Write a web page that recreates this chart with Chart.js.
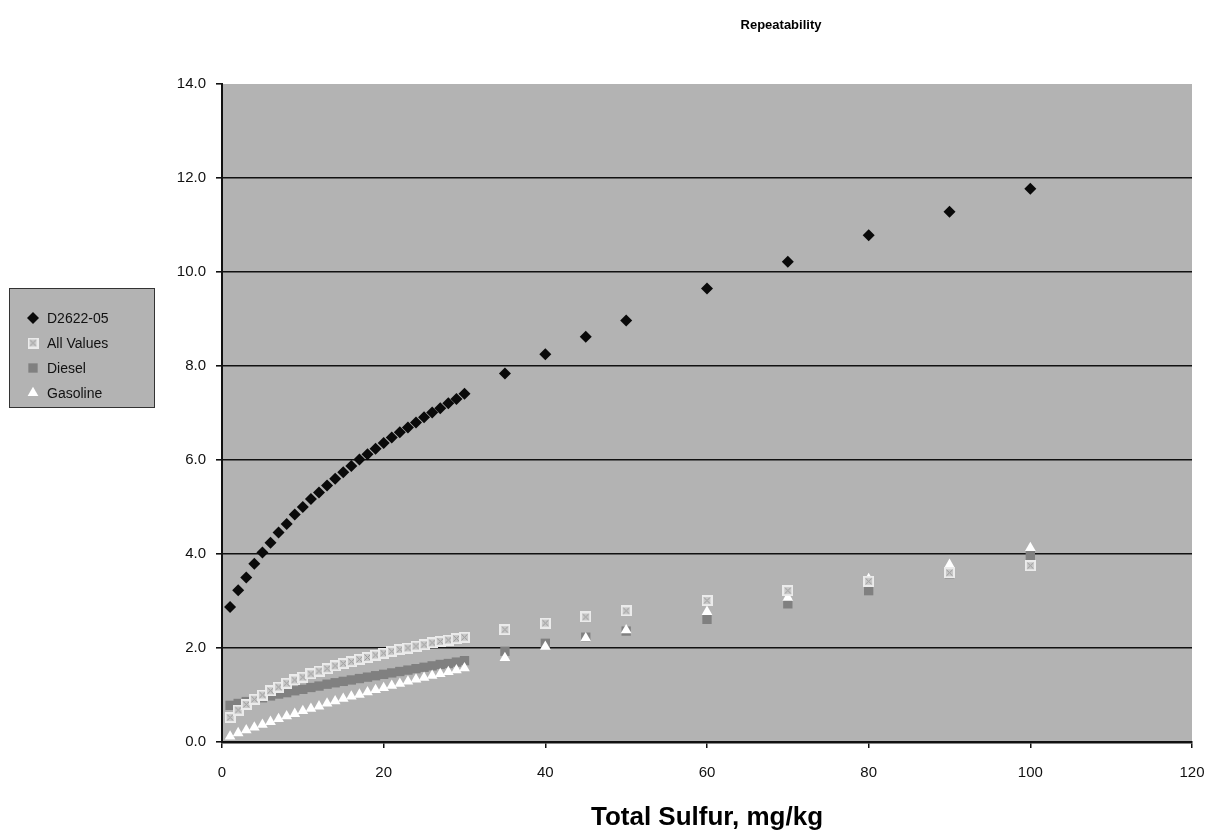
<!DOCTYPE html>
<html>
<head>
<meta charset="utf-8">
<title>Repeatability</title>
<script src="https://cdn.jsdelivr.net/npm/chart.js@4.4.1/dist/chart.umd.min.js"></script>
<style>
  html, body { margin: 0; padding: 0; background: #fff; }
  #wrap { position: relative; width: 1211px; height: 835px; }
</style>
</head>
<body>
<div id="wrap"><canvas id="chart"></canvas></div>
<script>
// x values (Total Sulfur, mg/kg)
const sulfur = [
  1, 2, 3, 4, 5, 6, 7, 8, 9, 10,
  11, 12, 13, 14, 15, 16, 17, 18, 19, 20,
  21, 22, 23, 24, 25, 26, 27, 28, 29, 30,
  35, 40, 45, 50, 60, 70, 80, 90, 100,
]

const d2622 = [
  2.87, 3.23, 3.50, 3.79, 4.03, 4.24, 4.46, 4.64, 4.84, 5.00,
  5.17, 5.31, 5.46, 5.60, 5.74, 5.87, 6.01, 6.12, 6.24, 6.36,
  6.48, 6.59, 6.69, 6.80, 6.91, 7.01, 7.10, 7.21, 7.30, 7.41,
  7.84, 8.25, 8.62, 8.97, 9.65, 10.22, 10.78, 11.28, 11.77,
]

const allValues = [
  0.52, 0.68, 0.80, 0.91, 1.00, 1.09, 1.17, 1.25, 1.32, 1.38,
  1.45, 1.51, 1.56, 1.62, 1.67, 1.71, 1.76, 1.80, 1.85, 1.89,
  1.93, 1.97, 2.00, 2.04, 2.07, 2.11, 2.14, 2.17, 2.20, 2.23,
  2.39, 2.53, 2.66, 2.79, 3.01, 3.22, 3.42, 3.60, 3.75,
]

const diesel = [
  0.78, 0.82, 0.86, 0.90, 0.94, 0.98, 1.02, 1.05, 1.09, 1.12,
  1.16, 1.19, 1.23, 1.26, 1.29, 1.32, 1.35, 1.38, 1.41, 1.44,
  1.47, 1.50, 1.53, 1.56, 1.59, 1.62, 1.65, 1.67, 1.70, 1.73,
  1.93, 2.10, 2.23, 2.36, 2.61, 2.94, 3.22, 3.58, 3.97,
]

const gasoline = [
  0.12, 0.19, 0.25, 0.31, 0.37, 0.43, 0.49, 0.55, 0.60, 0.66,
  0.71, 0.76, 0.82, 0.87, 0.92, 0.97, 1.01, 1.06, 1.11, 1.15,
  1.20, 1.24, 1.29, 1.33, 1.37, 1.41, 1.45, 1.49, 1.53, 1.57,
  1.79, 2.03, 2.21, 2.38, 2.77, 3.07, 3.47, 3.77, 4.13,
]

const xTicks = [0, 20, 40, 60, 80, 100, 120]
const yTicks = [0, 2, 4, 6, 8, 10, 12, 14]

const FONT = "'Liberation Sans', Arial, Helvetica, sans-serif"
const INK = "#111111"
const PLOT_BG = "#b3b3b3"

// light square with an X, like the Excel "All Values" marker
function crossedSquare(size) {
  const c = document.createElement("canvas")
  c.width = size
  c.height = size
  const g = c.getContext("2d")
  g.fillStyle = "#c9c9c9"
  g.fillRect(0, 0, size, size)
  g.strokeStyle = "#ebebeb"
  g.lineWidth = 2
  g.strokeRect(1, 1, size - 2, size - 2)
  g.strokeStyle = "#9a9a9a"
  g.lineWidth = 1
  g.beginPath()
  g.moveTo(2.5, 2.5)
  g.lineTo(size - 2.5, size - 2.5)
  g.moveTo(size - 2.5, 2.5)
  g.lineTo(2.5, size - 2.5)
  g.stroke()
  return c
}

const toPoints = (ys) => sulfur.map((x, i) => ({ x, y: ys[i] }))

const datasets = [
  {
    label: "D2622-05",
    data: toPoints(d2622),
    pointStyle: "rectRot",
    pointRadius: 6,
    backgroundColor: "#0a0a0a",
    borderColor: "#0a0a0a",
    borderWidth: 0,
    order: 3,
  },
  {
    label: "All Values",
    data: toPoints(allValues),
    pointStyle: crossedSquare(11),
    pointRadius: 5,
    backgroundColor: "#c9c9c9",
    borderColor: "#ebebeb",
    borderWidth: 0,
    order: 0,
  },
  {
    label: "Diesel",
    data: toPoints(diesel),
    pointStyle: "rect",
    pointRadius: 6.6,
    backgroundColor: "#808080",
    borderColor: "#808080",
    borderWidth: 0,
    order: 2,
  },
  {
    label: "Gasoline",
    data: toPoints(gasoline),
    pointStyle: "triangle",
    pointRadius: 6.2,
    backgroundColor: "#ffffff",
    borderColor: "#ffffff",
    borderWidth: 0,
    order: 1,
  },
]

const titleSpot = { text: "Repeatability", x: 781, y: 25 }
const legendSpot = { x: 9, y: 288, w: 145, h: 119, firstRow: 318, rowGap: 25, markerX: 33, textX: 47 }

const plotBackground = {
  id: "plotBackground",
  beforeDraw(chart) {
    const { ctx, chartArea } = chart
    ctx.save()
    ctx.fillStyle = PLOT_BG
    ctx.fillRect(chartArea.left, chartArea.top, chartArea.right - chartArea.left, chartArea.bottom - chartArea.top)
    ctx.restore()
  },
}

const titleAndLegend = {
  id: "titleAndLegend",
  afterDraw(chart) {
    const { ctx } = chart
    ctx.save()

    ctx.fillStyle = "#000"
    ctx.font = `bold 13px ${FONT}`
    ctx.textAlign = "center"
    ctx.textBaseline = "middle"
    ctx.fillText(titleSpot.text, titleSpot.x, titleSpot.y)

    const L = legendSpot
    ctx.fillStyle = PLOT_BG
    ctx.fillRect(L.x, L.y, L.w, L.h)
    ctx.strokeStyle = "#333"
    ctx.lineWidth = 1
    ctx.strokeRect(L.x + 0.5, L.y + 0.5, L.w, L.h)

    ctx.font = `14px ${FONT}`
    ctx.textAlign = "left"
    chart.data.datasets.forEach((ds, i) => {
      const y = L.firstRow + i * L.rowGap
      ctx.fillStyle = ds.backgroundColor
      ctx.strokeStyle = ds.borderColor
      Chart.helpers.drawPoint(ctx, { pointStyle: ds.pointStyle, radius: ds.pointRadius, rotation: 0, borderWidth: 0 }, L.markerX, y)
      ctx.fillStyle = INK
      ctx.fillText(ds.label, L.textX, y + 1)
    })
    ctx.restore()
  },
}

new Chart(document.getElementById("chart"), {
  type: "scatter",
  data: { datasets },
  options: {
    responsive: true,
    maintainAspectRatio: false,
    animation: false,
    events: [],
    layout: { padding: { left: 160, top: 84, right: 19, bottom: 0 } },
    plugins: {
      legend: { display: false },
      title: { display: false },
      tooltip: { enabled: false },
    },
    scales: {
      x: {
        type: "linear",
        min: 0,
        max: 120,
        afterBuildTicks: (scale) => {
          scale.ticks = xTicks.map((value) => ({ value }))
        },
        afterFit: (scale) => {
          scale.height = 93
          scale.paddingLeft = 0
          scale.paddingRight = 0
        },
        grid: { drawOnChartArea: false, color: INK, tickColor: INK, tickLength: 6, lineWidth: 1.5 },
        border: { color: INK, width: 2.5 },
        ticks: {
          padding: 16,
          color: INK,
          font: { family: FONT, size: 15 },
          maxRotation: 0,
          callback: (v) => String(v),
        },
        title: {
          display: true,
          text: "Total Sulfur, mg/kg",
          color: "#000",
          font: { family: FONT, size: 26, weight: "bold" },
          padding: { top: 0, bottom: 2 },
        },
      },
      y: {
        type: "linear",
        min: 0,
        max: 14,
        afterBuildTicks: (scale) => {
          scale.ticks = yTicks.map((value) => ({ value }))
        },
        afterFit: (scale) => {
          scale.width = 62
          scale.paddingTop = 0
          scale.paddingBottom = 0
        },
        grid: {
          color: (c) => (c.tick && c.tick.value === 14 ? "rgba(0,0,0,0)" : INK),
          tickColor: INK,
          tickLength: 6,
          lineWidth: 1.6,
        },
        border: { color: INK, width: 2 },
        ticks: {
          padding: 10,
          color: INK,
          font: { family: FONT, size: 15 },
          callback: (v) => Number(v).toFixed(1),
        },
      },
    },
  },
  plugins: [plotBackground, titleAndLegend],
})
</script>
</body>
</html>
